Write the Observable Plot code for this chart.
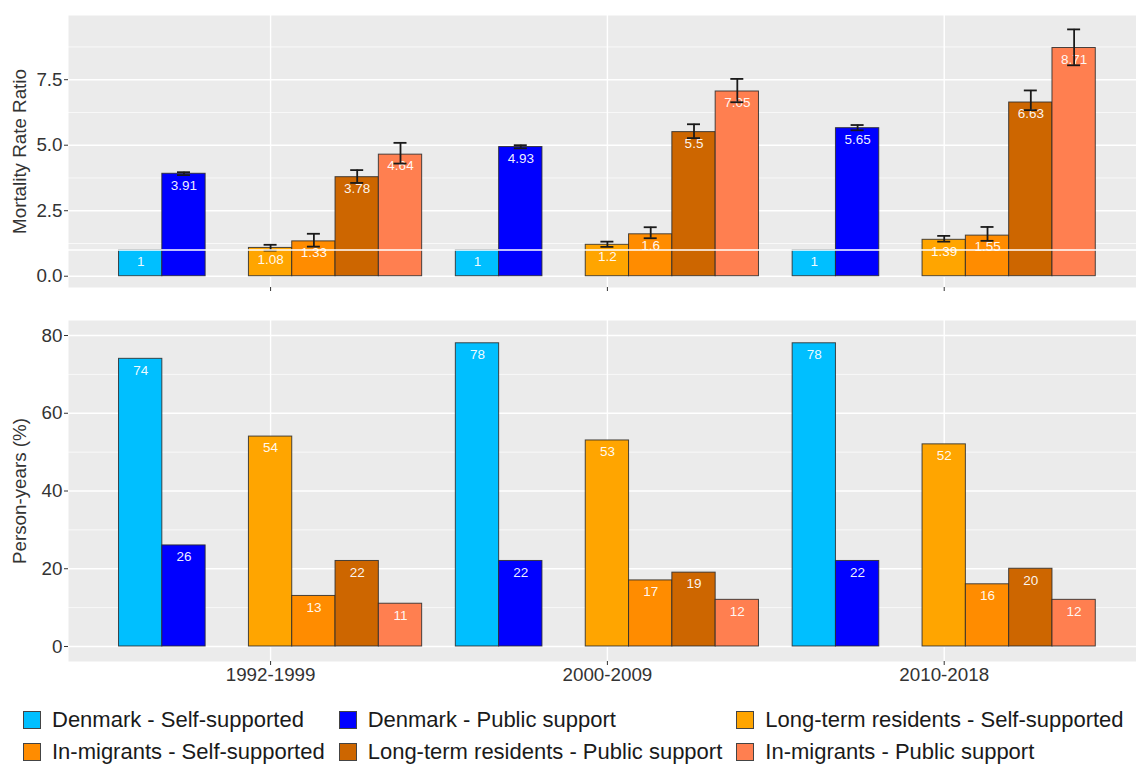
<!DOCTYPE html>
<html><head><meta charset="utf-8">
<script src="https://cdn.jsdelivr.net/npm/d3@7"></script>
<script src="https://cdn.jsdelivr.net/npm/@observablehq/plot@0.6"></script>
<style>
html,body{margin:0;background:#fff;font-family:"Liberation Sans",Arial,sans-serif;}
body{min-height:767px;}
#chart{width:1136px;}
svg{display:block;}
.legend{display:grid;grid-template-columns:auto auto auto;column-gap:14px;row-gap:6px;padding:17px 0 0 23px;justify-content:start;}
.item{display:flex;align-items:center;height:26px;font-size:22px;line-height:26px;color:#1a1a1a;white-space:nowrap;}
.sw{border:1px solid #444;margin-right:11px;flex:none;box-sizing:border-box;width:18px;height:18px;}
</style></head><body><div id="chart"></div>
<script>
// ---- data ----
const periods = ["1992-1999", "2000-2009", "2010-2018"];
const groups = [
  "Denmark - Self-supported",
  "Denmark - Public support",
  "Long-term residents - Self-supported",
  "In-migrants - Self-supported",
  "Long-term residents - Public support",
  "In-migrants - Public support"
];
// dodge order within each period (empty slot between Denmark and the others)
const dodgeOrder = [groups[0], groups[1], "", groups[2], groups[3], groups[4], groups[5]];
const colors = ["#00BFFF", "#0000FF", "#FFA500", "#FF8C00", "#CD6600", "#FF7F50"];

// Mortality rate ratio, per period, in groups order
const mrr_1992_1999 = [1, 3.91, 1.08, 1.33, 3.78, 4.64];
const mrr_2000_2009 = [1, 4.93, 1.2, 1.6, 5.5, 7.05];
const mrr_2010_2018 = [1, 5.65, 1.39, 1.55, 6.63, 8.71];
// 95% CI bounds
const lower_1992_1999 = [null, 3.86, 0.98, 1.13, 3.56, 4.30];
const upper_1992_1999 = [null, 3.97, 1.20, 1.62, 4.05, 5.09];
const lower_2000_2009 = [null, 4.88, 1.12, 1.45, 5.27, 6.64];
const upper_2000_2009 = [null, 5.00, 1.32, 1.87, 5.80, 7.53];
const lower_2010_2018 = [null, 5.57, 1.32, 1.35, 6.34, 8.05];
const upper_2010_2018 = [null, 5.77, 1.54, 1.88, 7.09, 9.42];
// Person-years (%)
const py_1992_1999 = [74, 26, 54, 13, 22, 11];
const py_2000_2009 = [78, 22, 53, 17, 19, 12];
const py_2010_2018 = [78, 22, 52, 16, 20, 12];

const mrrByPeriod = [mrr_1992_1999, mrr_2000_2009, mrr_2010_2018];
const lowByPeriod = [lower_1992_1999, lower_2000_2009, lower_2010_2018];
const highByPeriod = [upper_1992_1999, upper_2000_2009, upper_2010_2018];
const pyByPeriod = [py_1992_1999, py_2000_2009, py_2010_2018];

// ---- table ----
const dodgeWidth = 0.9;
const bw = dodgeWidth / dodgeOrder.length;
const rows = [];
periods.forEach((p, pi) => {
  groups.forEach((g, gi) => {
    const slot = dodgeOrder.indexOf(g);
    const center = pi + 1 + (slot - (dodgeOrder.length - 1) / 2) * bw;
    rows.push({
      period: p, group: g,
      x1: center - bw / 2, x2: center + bw / 2, xc: center,
      mrr: mrrByPeriod[pi][gi], lo: lowByPeriod[pi][gi], hi: highByPeriod[pi][gi],
      py: pyByPeriod[pi][gi]
    });
  });
});
const ciRows = rows.filter(d => d.lo != null);
const cap = bw * 0.15;

const font = "'Liberation Sans', Arial, sans-serif";
const xDomain = [0.4, 0.4 + 3.2 * (1068 / 1077.8)];
const common = {
  width: 1136, marginLeft: 68, marginRight: 0,
  x: {domain: xDomain},
  color: {domain: groups, range: colors},
  style: {fontFamily: font, background: "white", overflow: "visible"}
};
const grid = (minor, major) => [
  Plot.frame({fill: "#EBEBEB", stroke: "none"}),
  Plot.gridY(minor, {stroke: "white", strokeOpacity: 1, strokeWidth: 0.7}),
  Plot.gridY(major, {stroke: "white", strokeOpacity: 1, strokeWidth: 1.4}),
  Plot.gridX([1, 2, 3], {stroke: "white", strokeOpacity: 1, strokeWidth: 1.4})
];
const barMarks = (yField) => [
  Plot.rect(rows, {x1: "x1", x2: "x2", y1: 0, y2: yField, fill: "group", stroke: "#2a2a2a", strokeWidth: 1, strokeOpacity: 0.85}),
  Plot.text(rows, {x: "xc", y: yField, text: d => String(d[yField]), fill: "white", fillOpacity: 0.95, dy: 11.5, fontSize: 13.5})
];

const mrrChart = Plot.plot({
  ...common,
  height: 300, marginTop: 15, marginBottom: 13,
  y: {domain: [-0.43, 9.95]},
  marks: [
    ...grid([1.25, 3.75, 6.25, 8.75], [0, 2.5, 5, 7.5]),
    ...barMarks("mrr"),
    Plot.ruleX(ciRows, {x: "xc", y1: "lo", y2: "hi", stroke: "#1a1a1a", strokeWidth: 1.8}),
    Plot.ruleY(ciRows, {y: "hi", x1: d => d.xc - cap, x2: d => d.xc + cap, stroke: "#1a1a1a", strokeWidth: 1.8}),
    Plot.ruleY(ciRows, {y: "lo", x1: d => d.xc - cap, x2: d => d.xc + cap, stroke: "#1a1a1a", strokeWidth: 1.8}),
    Plot.ruleY([1], {stroke: "white", strokeWidth: 1.5}),
    Plot.axisY({ticks: [0, 2.5, 5, 7.5], tickFormat: d3.format(".1f"), tickSize: 4, tickPadding: 2,
      fontSize: 18.8, stroke: "#333", fill: "#333", label: "Mortality Rate Ratio", labelAnchor: "center",
      labelArrow: "none", labelOffset: 56}),
    Plot.axisX({ticks: [1, 2, 3], tickFormat: () => "", tickSize: 4, stroke: "#333", label: null})
  ]
});

const pyChart = Plot.plot({
  ...common,
  height: 390, marginTop: 20, marginBottom: 29,
  y: {domain: [-3.86, 83.86]},
  marks: [
    ...grid([10, 30, 50, 70], [0, 20, 40, 60, 80]),
    ...barMarks("py"),
    Plot.axisY({ticks: [0, 20, 40, 60, 80], tickFormat: d3.format("d"), tickSize: 4, tickPadding: 2,
      fontSize: 18.8, stroke: "#333", fill: "#333", label: "Person-years (%)", labelAnchor: "center",
      labelArrow: "none", labelOffset: 56}),
    Plot.axisX({ticks: [1, 2, 3], tickFormat: i => periods[i - 1], tickSize: 4, tickPadding: 2,
      fontSize: 18.8, stroke: "#333", fill: "#333", label: null})
  ]
});

const chart = document.getElementById("chart");
chart.appendChild(mrrChart);
chart.appendChild(pyChart);

const legend = document.createElement("div");
legend.className = "legend";
groups.forEach((g, i) => {
  const item = document.createElement("div");
  item.className = "item";
  const sw = document.createElement("span");
  sw.className = "sw";
  sw.style.background = colors[i];
  const t = document.createElement("span");
  t.textContent = g;
  item.appendChild(sw);
  item.appendChild(t);
  legend.appendChild(item);
});
chart.appendChild(legend);
</script></body></html>
